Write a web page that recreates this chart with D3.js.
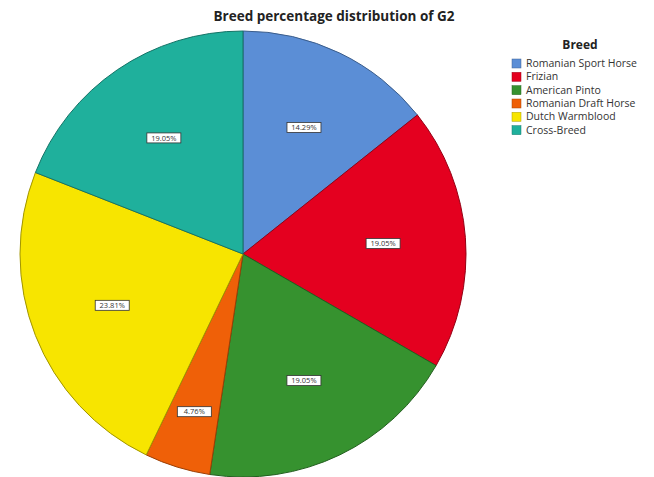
<!DOCTYPE html>
<html>
<head>
<meta charset="utf-8">
<script src="https://cdn.jsdelivr.net/npm/d3@7"></script>
<style>
  html, body { margin: 0; padding: 0; background: #fff; }
  svg { display: block; font-family: "Open Sans", "DejaVu Sans", sans-serif; }
</style>
</head>
<body>
<div id="chart"></div>
<script>
(function() {
    'use strict';

    // Breeds in slice order (clockwise from 12 o'clock)
    var breeds = ['Romanian Sport Horse', 'Frizian', 'American Pinto', 'Romanian Draft Horse', 'Dutch Warmblood', 'Cross-Breed'];
    var percents = [14.29, 19.05, 19.05, 4.76, 23.81, 19.05];
    var colors = ['#5b8ed6', '#e4001f', '#36922f', '#ef6008', '#f7e500', '#1fb09c'];

    var width = 654, height = 477;
    var cx = 243, cy = 254, radius = 223;

    var svg = d3.select('#chart').append('svg')
        .attr('width', width)
        .attr('height', height);

    svg.append('text')
        .attr('x', 334)
        .attr('y', 21)
        .attr('text-anchor', 'middle')
        .style('font-size', '13.5px')
        .style('font-weight', 'bold')
        .attr('fill', '#222')
        .text('Breed percentage distribution of G2');

    var data = breeds.map(function(b, i) { return { name: b, value: percents[i], color: colors[i] }; });

    var pie = d3.pie()
        .sort(null)
        .value(function(d) { return d.value; });

    var arc = d3.arc().innerRadius(0).outerRadius(radius);

    var g = svg.append('g').attr('transform', 'translate(' + cx + ',' + cy + ')');
    var arcs = pie(data);

    g.selectAll('path')
        .data(arcs)
        .join('path')
        .attr('d', arc)
        .attr('fill', function(d) { return d.data.color; })
        .attr('stroke', function(d) { return d3.color(d.data.color).darker(1.2); })
        .attr('stroke-width', 1);

    // Labels: small slices pushed further out, like SPSS does
    var labels = g.selectAll('g.lbl')
        .data(arcs)
        .join('g')
        .attr('class', 'lbl')
        .attr('transform', function(d) {
            var frac = (d.endAngle - d.startAngle) / (2 * Math.PI);
            var r = radius * (frac < 0.08 ? 0.74 : 0.63);
            var a = (d.startAngle + d.endAngle) / 2;
            return 'translate(' + (Math.sin(a) * r) + ',' + (-Math.cos(a) * r) + ')';
        });

    labels.append('rect')
        .attr('x', -17)
        .attr('y', -5)
        .attr('width', 34)
        .attr('height', 10)
        .attr('fill', '#fff')
        .attr('stroke', '#333')
        .attr('stroke-width', 0.8);

    labels.append('text')
        .attr('text-anchor', 'middle')
        .attr('dy', '0.35em')
        .style('font-size', '7.5px')
        .attr('fill', '#333')
        .text(function(d) { return d.data.value.toFixed(2) + '%'; });

    // Legend
    var legend = svg.append('g').attr('transform', 'translate(512,0)');

    legend.append('text')
        .attr('x', 68)
        .attr('y', 49)
        .attr('text-anchor', 'middle')
        .style('font-size', '12px')
        .style('font-weight', 'bold')
        .attr('fill', '#222')
        .text('Breed');

    var y = d3.scaleBand().domain(breeds).range([57, 137]);

    var item = legend.selectAll('g.item')
        .data(data)
        .join('g')
        .attr('class', 'item')
        .attr('transform', function(d) { return 'translate(0,' + y(d.name) + ')'; });

    item.append('rect')
        .attr('width', 9)
        .attr('height', 9)
        .attr('y', 2)
        .attr('fill', function(d) { return d.color; })
        .attr('stroke', function(d) { return d3.color(d.color).darker(1); })
        .attr('stroke-width', 0.5);

    item.append('text')
        .attr('x', 14)
        .attr('y', 10)
        .style('font-size', '10.5px')
        .attr('fill', '#333')
        .text(function(d) { return d.name; });
})();
</script>
</body>
</html>
